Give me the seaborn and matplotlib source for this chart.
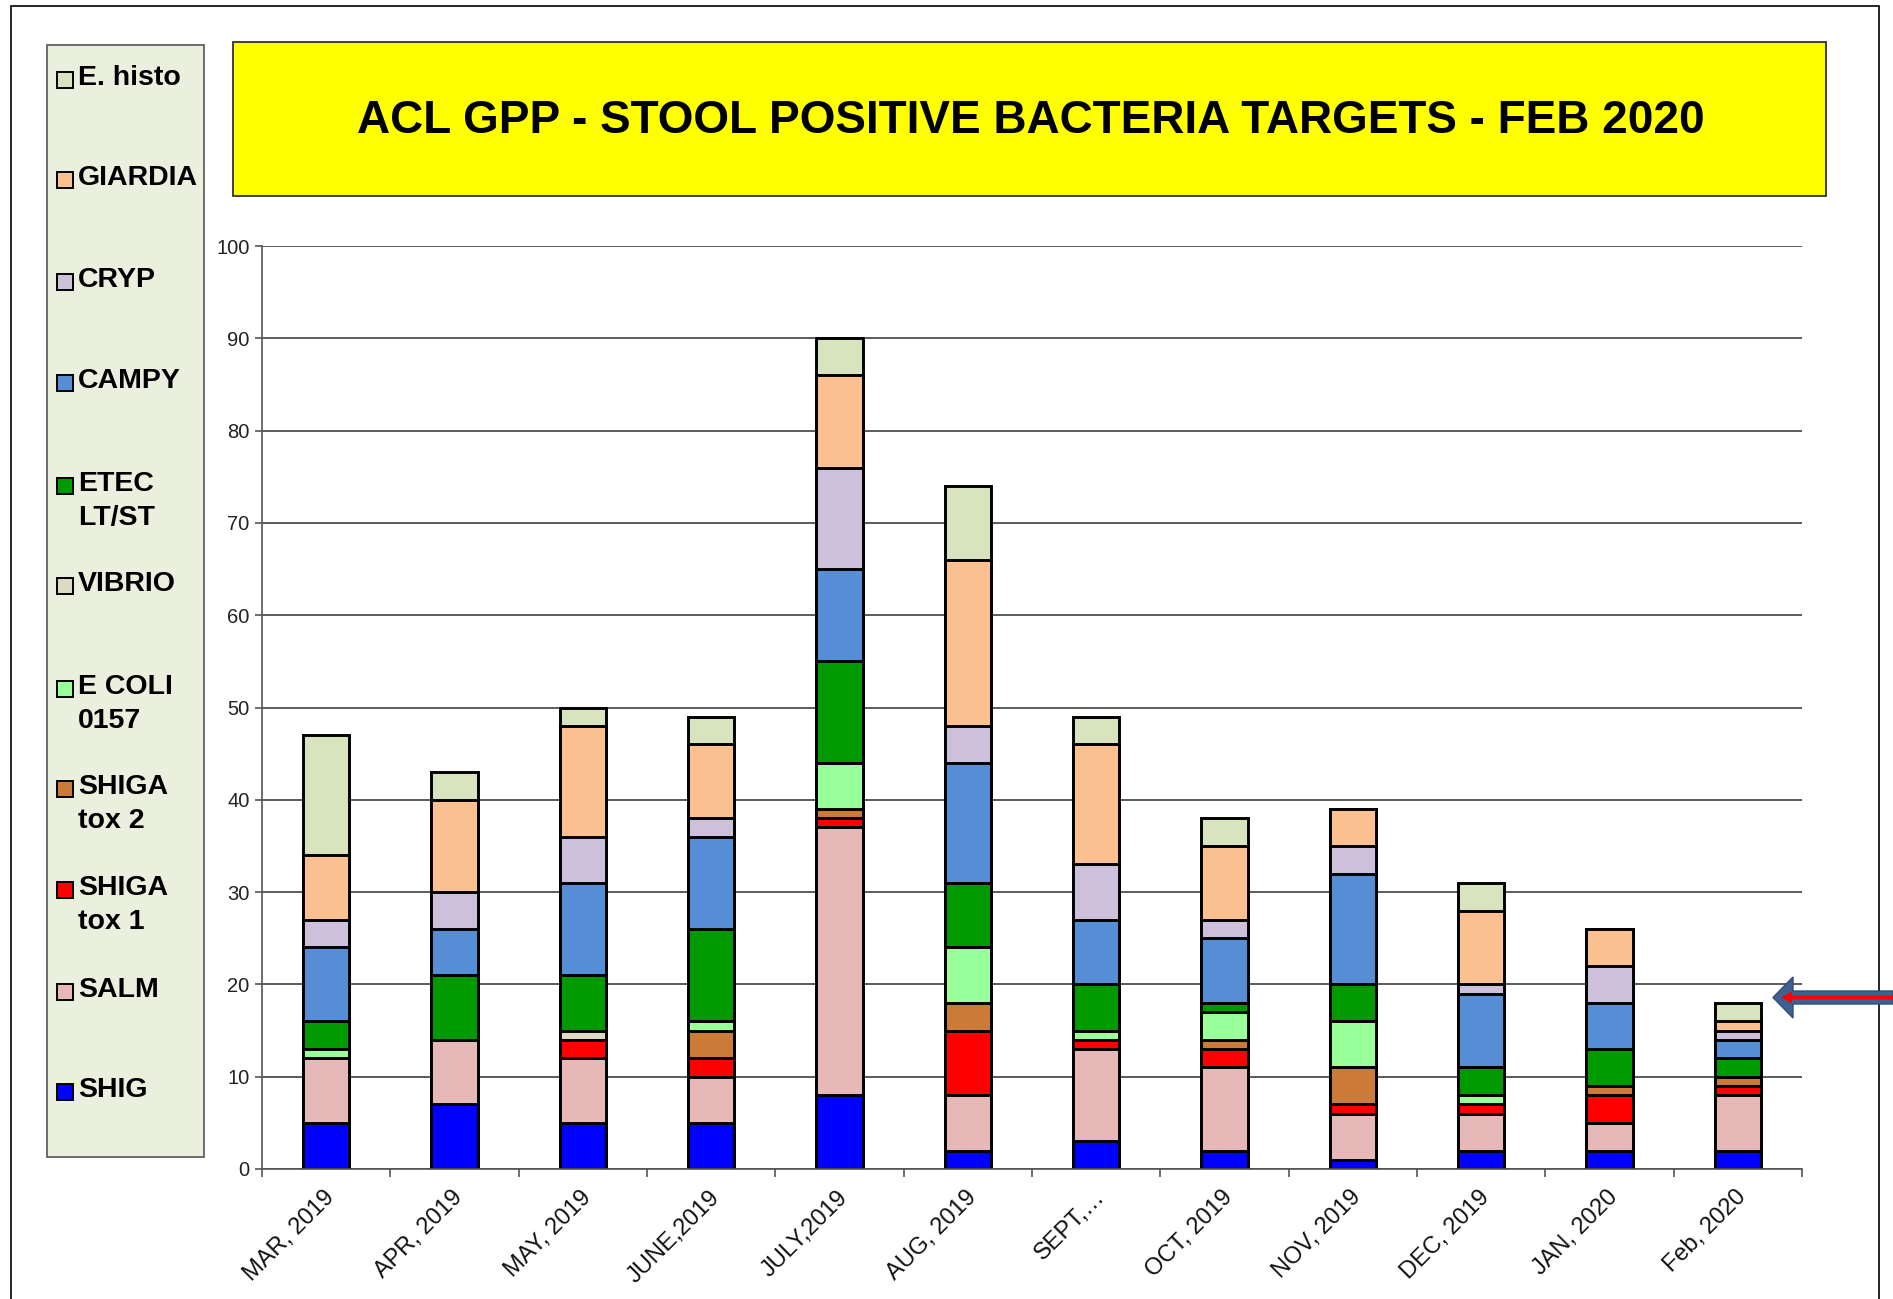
import matplotlib
matplotlib.use("Agg")
import matplotlib.pyplot as plt
import matplotlib.transforms as mtransforms
import seaborn as sns
import numpy as np
from matplotlib.patches import Rectangle, Polygon

# months on the x axis
MONTHS = ["MAR, 2019", "APR, 2019", "MAY, 2019", "JUNE,2019", "JULY,2019", "AUG, 2019",
          "SEPT,…", "OCT, 2019", "NOV, 2019", "DEC, 2019", "JAN, 2020", "Feb, 2020"]

# counts per target, bottom of the stack first
SHIG    = [5, 7, 5, 5, 8, 2, 3, 2, 1, 2, 2, 2]
SALM    = [7, 7, 7, 5, 29, 6, 10, 9, 5, 4, 3, 6]
TOX1    = [0, 0, 2, 2, 1, 7, 1, 2, 1, 1, 3, 1]
TOX2    = [0, 0, 0, 3, 1, 3, 0, 1, 4, 0, 1, 1]
ECOLI   = [1, 0, 0, 1, 5, 6, 1, 3, 5, 1, 0, 0]
VIBRIO  = [0, 0, 1, 0, 0, 0, 0, 0, 0, 0, 0, 0]
ETEC    = [3, 7, 6, 10, 11, 7, 5, 1, 4, 3, 4, 2]
CAMPY   = [8, 5, 10, 10, 10, 13, 7, 7, 12, 8, 5, 2]
CRYP    = [3, 4, 5, 2, 11, 4, 6, 2, 3, 1, 4, 1]
GIARDIA = [7, 10, 12, 8, 10, 18, 13, 8, 4, 8, 4, 1]
EHISTO  = [13, 3, 2, 3, 4, 8, 3, 3, 0, 3, 0, 2]

SERIES = [SHIG, SALM, TOX1, TOX2, ECOLI, VIBRIO, ETEC, CAMPY, CRYP, GIARDIA, EHISTO]
LABELS = ["SHIG", "SALM", "SHIGA\ntox 1", "SHIGA\ntox 2", "E COLI\n0157", "VIBRIO",
          "ETEC\nLT/ST", "CAMPY", "CRYP", "GIARDIA", "E. histo"]
COLORS = ["#0000FF", "#E6B8B7", "#FF0000", "#CC7A38", "#99FF99", "#DDD9C3",
          "#009900", "#558ED5", "#CCC0DA", "#FAC090", "#D8E4BD"]

W, H = 1893, 1299


def fx(px):
    return px / W


def fy(py):
    return (H - py) / H


sns.set_style("white")
plt.rcParams['font.family'] = ['Liberation Sans', 'DejaVu Sans']

fig = plt.figure(figsize=(W / 100, H / 100), dpi=100)
ax = fig.add_axes([fx(262), fy(1169), fx(1802) - fx(262), fy(246) - fy(1169)])

# stacked bars: draw running totals from the top layer down so each
# lower layer paints over the one above it
cum = np.cumsum(np.array(SERIES), axis=0)
for k in range(len(SERIES) - 1, -1, -1):
    sns.barplot(x=MONTHS, y=cum[k], order=MONTHS, color=COLORS[k], saturation=1,
                edgecolor="black", linewidth=2.1, width=0.36, errorbar=None, ax=ax)

ax.set_xlim(-0.5, 11.5)
ax.set_ylim(0, 100)
ax.set_yticks(range(0, 101, 10))
ax.set_xlabel("")
ax.set_ylabel("")
ax.yaxis.grid(True, color="#404040", linewidth=1.2)
ax.set_axisbelow(True)
for s in ["top", "right"]:
    ax.spines[s].set_visible(False)
ax.spines["left"].set_color("#555555")
ax.spines["bottom"].set_color("#555555")
ax.spines["left"].set_linewidth(1.2)
ax.spines["bottom"].set_linewidth(1.2)

ax.tick_params(axis="y", length=5, width=1.2, color="#555555", labelsize=14.5,
               labelcolor="#222222", pad=4, left=True)
ax.set_xticks(range(len(MONTHS)))
ax.set_xticks(np.arange(-0.5, 12, 1), minor=True)
ax.tick_params(axis="x", which="major", length=0, pad=18, labelsize=17, labelcolor="#111111")
ax.tick_params(axis="x", which="minor", length=6, width=1.2, color="#555555", bottom=True)
ax.set_xticklabels(MONTHS, rotation=45, ha="right", va="center", rotation_mode="anchor")
shift = mtransforms.ScaledTranslation(5 / 100, 0, fig.dpi_scale_trans)
for lab in ax.get_xticklabels():
    lab.set_transform(lab.get_transform() + shift)

# outer frame
fig.patches.append(Rectangle((fx(11), -0.05), fx(1879) - fx(11), fy(6) + 0.05,
                             transform=fig.transFigure, fill=False,
                             edgecolor="black", linewidth=1.2))

# title box
fig.patches.append(Rectangle((fx(233), fy(196)), fx(1826) - fx(233), fy(42) - fy(196),
                             transform=fig.transFigure, facecolor="#FFFF00",
                             edgecolor="#333333", linewidth=1.3))
fig.text(fx(1031), fy(121), "ACL GPP - STOOL POSITIVE BACTERIA TARGETS - FEB 2020",
         ha="center", va="center", fontsize=33, fontweight="bold", color="black")

# legend panel, top entry = top of the stack
fig.patches.append(Rectangle((fx(47), fy(1157)), fx(204) - fx(47), fy(45) - fy(1157),
                             transform=fig.transFigure, facecolor="#EBEFDE",
                             edgecolor="#555555", linewidth=1.2))
leg_y = [1090, 990, 888, 787, 687, 584, 484, 381, 280, 178, 78]
for k in range(len(SERIES)):
    y0 = leg_y[k] + 2
    fig.patches.append(Rectangle((fx(57), fy(y0 + 8)), fx(73) - fx(57), fy(y0 - 8) - fy(y0 + 8),
                                 transform=fig.transFigure, facecolor=COLORS[k],
                                 edgecolor="black", linewidth=1.4))
    fig.text(fx(78), fy(y0 - 15), LABELS[k], ha="left", va="top", fontsize=20.5,
             fontweight="bold", color="black", linespacing=1.38)

# arrow pointing at the latest month
blue = [(1773, 997.5), (1793, 977), (1793, 991), (1893, 991), (1893, 1004),
        (1793, 1004), (1793, 1018)]
red = [(1781, 997.5), (1792, 991.5), (1792, 995.5), (1893, 995.5), (1893, 999.5),
       (1792, 999.5), (1792, 1003.5)]
fig.patches.append(Polygon([(fx(a), fy(b)) for a, b in blue], closed=True,
                           transform=fig.transFigure, facecolor="#3E6191",
                           edgecolor="#2F4F7A", linewidth=1))
fig.patches.append(Polygon([(fx(a), fy(b)) for a, b in red], closed=True,
                           transform=fig.transFigure, facecolor="#FF0000",
                           edgecolor="none"))

fig.savefig("out.png", dpi=100)
